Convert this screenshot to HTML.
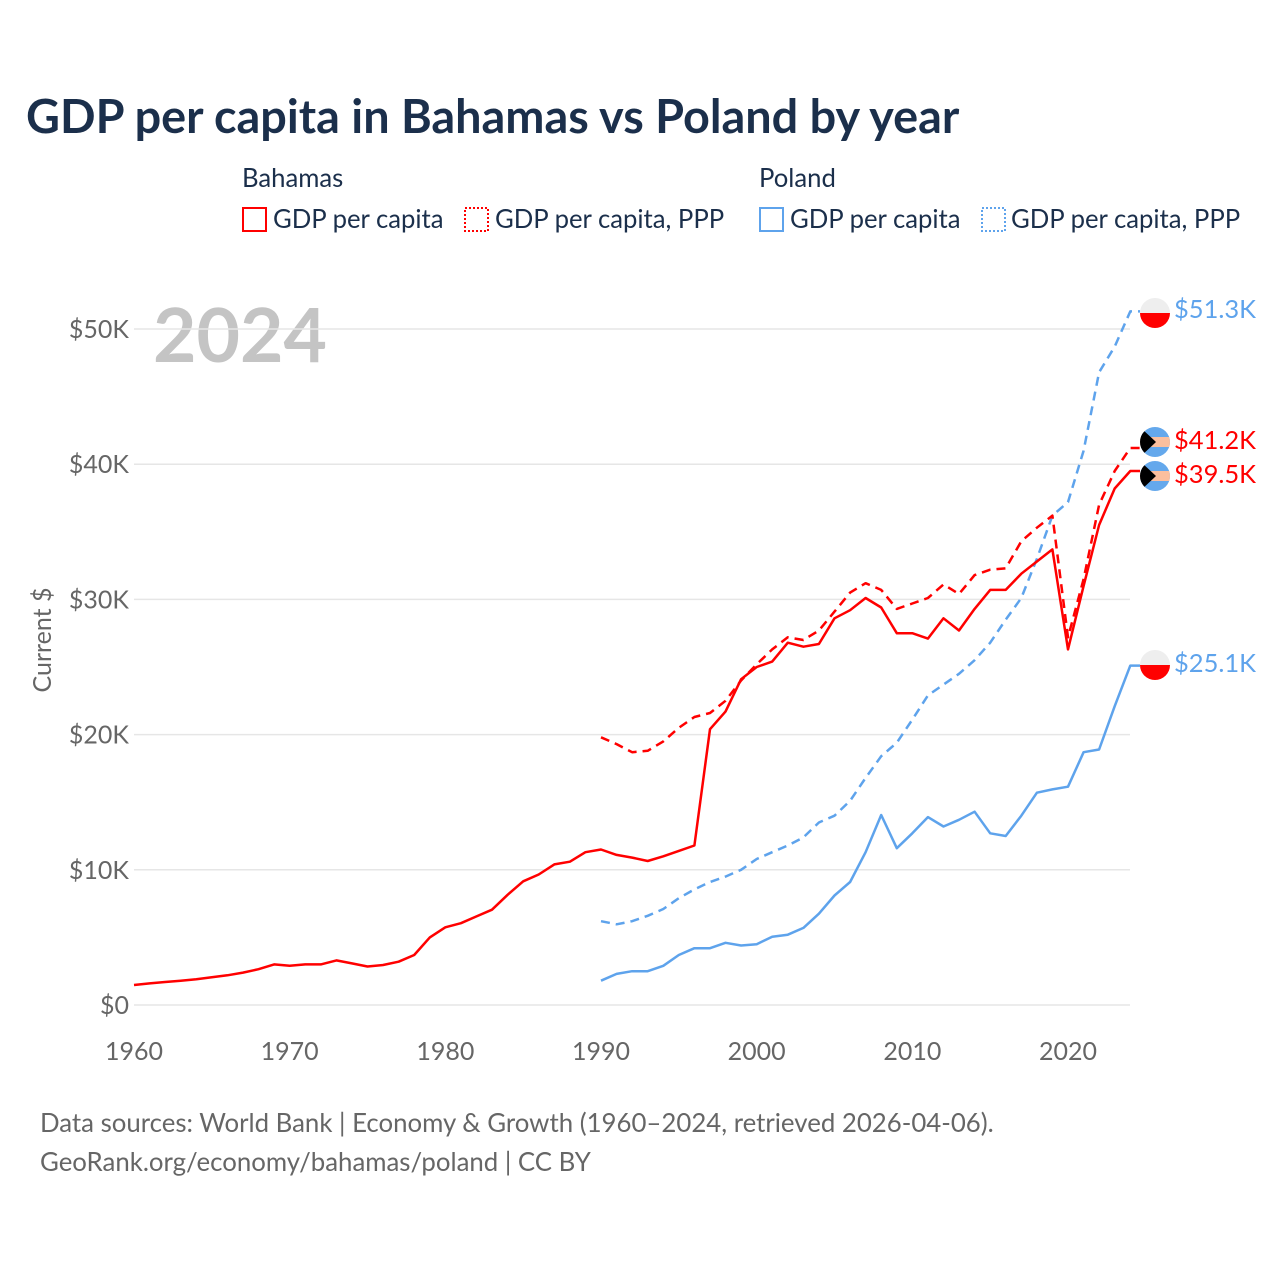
<!DOCTYPE html>
<html><head><meta charset="utf-8"><style>
body{margin:0;background:#fff;width:1280px;height:1280px;overflow:hidden;font-family:"Liberation Sans",sans-serif}
svg text{font-family:"Lato","Liberation Sans",sans-serif}
</style></head><body>
<svg id="c" width="1280" height="1280" viewBox="0 0 1280 1280" xmlns="http://www.w3.org/2000/svg">
<defs>
<clipPath id="fp1"><circle cx="1155" cy="313" r="15"/></clipPath>
<clipPath id="fp2"><circle cx="1155" cy="665" r="15"/></clipPath>
<clipPath id="fb1"><circle cx="1155" cy="442" r="15"/></clipPath>
<clipPath id="fb2"><circle cx="1155" cy="476" r="15"/></clipPath>
</defs>
<text x="26" y="133" font-size="46.8" font-weight="bold" fill="#1b2f4b">GDP per capita in Bahamas vs Poland by year</text>
<g font-size="25.7" fill="#1b2f4b">
<text x="242" y="187">Bahamas</text>
<text x="759" y="187">Poland</text>
<g><rect x="243" y="208" width="23" height="23" fill="none" stroke="#ff0000" stroke-width="2"/><text x="273" y="228">GDP per capita</text></g>
<g><rect x="465" y="208" width="23" height="23" fill="none" stroke="#ff0000" stroke-width="2" stroke-dasharray="2,2"/><text x="495" y="228">GDP per capita, PPP</text></g>
<g><rect x="760" y="208" width="23" height="23" fill="none" stroke="#5ea3ec" stroke-width="2"/><text x="790" y="228">GDP per capita</text></g>
<g><rect x="982" y="208" width="23" height="23" fill="none" stroke="#5ea3ec" stroke-width="2" stroke-dasharray="2,2"/><text x="1011" y="228">GDP per capita, PPP</text></g>
</g>
<text x="153" y="362" font-size="75" font-weight="bold" fill="#c4c4c4">2024</text>
<g id="grid"></g><g id="axes"></g><g id="series"></g>
<text transform="translate(51,640) rotate(-90)" text-anchor="middle" font-size="25" fill="#666">Current $</text>
<g>
<g clip-path="url(#fp1)"><rect x="1140" y="298" width="30" height="15" fill="#eeeeee"/><rect x="1140" y="313" width="30" height="15" fill="#ff0000"/></g>
<g clip-path="url(#fp2)"><rect x="1140" y="650" width="30" height="15" fill="#eeeeee"/><rect x="1140" y="665" width="30" height="15" fill="#ff0000"/></g>
<g clip-path="url(#fb1)"><rect x="1140" y="427" width="30" height="30" fill="#64a8ec"/><rect x="1140" y="437" width="30" height="10" fill="#fbbf9e"/><polygon points="1140,427 1156,442 1140,457" fill="#000"/></g>
<g clip-path="url(#fb2)"><rect x="1140" y="461" width="30" height="30" fill="#64a8ec"/><rect x="1140" y="471" width="30" height="10" fill="#fbbf9e"/><polygon points="1140,461 1156,476 1140,491" fill="#000"/></g>
</g>
<g font-size="25.5">
<text x="1174" y="318" fill="#5ea3ec">$51.3K</text>
<text x="1174" y="449" fill="#ff0000">$41.2K</text>
<text x="1174" y="483" fill="#ff0000">$39.5K</text>
<text x="1174" y="672" fill="#5ea3ec">$25.1K</text>
</g>
<g font-size="25.8" fill="#666">
<text x="40" y="1132">Data sources: World Bank | Economy &amp; Growth (1960–2024, retrieved 2026-04-06).</text>
<text x="40" y="1171">GeoRank.org/economy/bahamas/poland | CC BY</text>
</g>
</svg>
<script>
const yTicks=[0,10,20,30,40,50];
const yTickLabels=["$0","$10K","$20K","$30K","$40K","$50K"];
const xTicks=[1960,1970,1980,1990,2000,2010,2020];
const bahYears=[1960,1961,1962,1963,1964,1965,1966,1967,1968,1969,1970,1971,1972,1973,1974,1975,1976,1977,1978,1979,1980,1981,1982,1983,1984,1985,1986,1987,1988,1989,1990,1991,1992,1993,1994,1995,1996,1997,1998,1999,2000,2001,2002,2003,2004,2005,2006,2007,2008,2009,2010,2011,2012,2013,2014,2015,2016,2017,2018,2019,2020,2021,2022,2023,2024];
const bahGdp=[1.48,1.6,1.7,1.8,1.9,2.05,2.2,2.4,2.65,3.0,2.9,3.0,3.0,3.3,3.08,2.85,2.96,3.2,3.7,5.0,5.75,6.05,6.55,7.05,8.15,9.15,9.65,10.4,10.6,11.3,11.5,11.1,10.9,10.65,11.0,11.4,11.8,20.4,21.7,24.1,25.0,25.4,26.8,26.5,26.7,28.6,29.2,30.1,29.4,27.5,27.5,27.1,28.6,27.7,29.3,30.7,30.7,31.9,32.8,33.7,26.3,31.0,35.5,38.2,39.5];
const pppYears=[1990,1991,1992,1993,1994,1995,1996,1997,1998,1999,2000,2001,2002,2003,2004,2005,2006,2007,2008,2009,2010,2011,2012,2013,2014,2015,2016,2017,2018,2019,2020,2021,2022,2023,2024];
const bahPpp=[19.8,19.3,18.7,18.8,19.5,20.5,21.3,21.6,22.5,24.0,25.2,26.3,27.2,27.0,27.7,29.1,30.5,31.2,30.7,29.3,29.7,30.1,31.1,30.4,31.8,32.2,32.3,34.3,35.3,36.2,27.2,31.5,37.0,39.5,41.2];
const polGdp=[1.8,2.3,2.5,2.5,2.9,3.7,4.2,4.2,4.6,4.4,4.5,5.05,5.2,5.7,6.75,8.1,9.1,11.3,14.05,11.6,12.7,13.9,13.2,13.7,14.3,12.7,12.5,14.0,15.7,15.95,16.15,18.7,18.9,22.1,25.1];
const polPpp=[6.2,5.97,6.2,6.6,7.1,7.9,8.55,9.1,9.5,10.0,10.8,11.3,11.8,12.4,13.5,14.0,15.1,16.8,18.4,19.4,21.1,22.9,23.7,24.5,25.5,26.8,28.5,30.1,33.0,36.2,37.2,41.0,46.8,48.7,51.3];
const NS='http://www.w3.org/2000/svg';
const X=y=>134+(y-1960)*(934/60);
const Y=v=>1005-v*13.52;
function mk(t,a,p){const e=document.createElementNS(NS,t);for(const k in a)e.setAttribute(k,a[k]);p.appendChild(e);return e;}
const grid=document.getElementById('grid'),axes=document.getElementById('axes'),ser=document.getElementById('series');
yTicks.forEach((v,i)=>{
 const l=mk('line',{x1:134,x2:1130,y1:Y(v),y2:Y(v),stroke:'#e6e6e6','stroke-width':1.5},grid);
 
 
 const t=mk('text',{x:129,y:Y(v)+9,'text-anchor':'end','font-size':25,fill:'#666'},axes);
 t.textContent=yTickLabels[i];
 
 
});
xTicks.forEach(v=>{
 const t=mk('text',{x:X(v),y:1060,'text-anchor':'middle','font-size':25,fill:'#666'},axes);
 t.textContent=v;
 
 
});
function line(years,vals,color,dash,name){
 let d=years.map((y,i)=>(i?'L':'M')+X(y).toFixed(1)+','+Y(vals[i]).toFixed(1)).join(' ');
 d+=' L1140,'+Y(vals[vals.length-1]).toFixed(1);
 const p=mk('path',{d:d,fill:'none',stroke:color,'stroke-width':2.5,'stroke-linejoin':'round'},ser);
 if(dash)p.setAttribute('stroke-dasharray','9,6');
 
 
}
line(pppYears,polPpp,'#5ea3ec',true,'line-poland-gdp-ppp');
line(pppYears,polGdp,'#5ea3ec',false,'line-poland-gdp');
line(pppYears,bahPpp,'#ff0000',true,'line-bahamas-gdp-ppp');
line(bahYears,bahGdp,'#ff0000',false,'line-bahamas-gdp');
</script>
</body></html>
